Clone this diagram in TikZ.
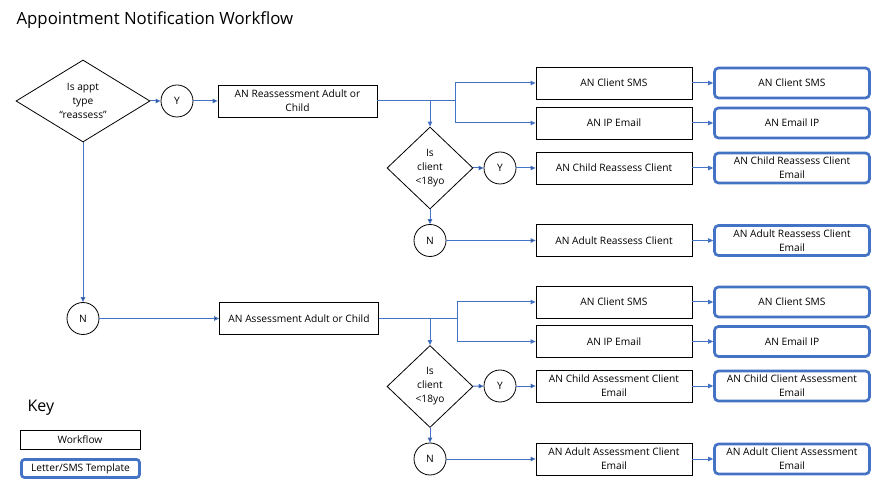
\documentclass[tikz,border=0pt]{standalone}
\usepackage{fontspec}
\setmainfont{Open Sans}
\usetikzlibrary{shapes.geometric,arrows.meta}
\definecolor{flowblue}{HTML}{4472C4}

\begin{document}
\begin{tikzpicture}[x=1pt,y=-1pt,->,>={Triangle[length=5pt,width=4.5pt]},node distance=178pt,
    every node/.style={font=\fontsize{10.2}{14}\selectfont},
    flow box/.style={rectangle,draw,line width=0.8pt,minimum width=156,minimum height=32,inner sep=1pt,align=center},
    template box/.style={rectangle,rounded corners=4pt,draw=flowblue,line width=2.7pt,minimum width=155,minimum height=30,inner sep=1pt,align=center},
    decision/.style={diamond,draw,line width=0.8pt,inner sep=0pt,align=center},
    answer/.style={circle,draw,line width=0.8pt,minimum size=32,inner sep=0pt},
    link/.style={draw=flowblue,line width=1pt}]
    \useasboundingbox (0,0) rectangle (889,494);

    \node[anchor=west,font=\fontsize{16.8}{20}\selectfont] (title) at (13,20) {Appointment Notification Workflow};

    % reassessment branch
    \node[decision,minimum width=134,minimum height=82,shape aspect=1.6] (appt) at (83,101) {Is appt\\type\\“reassess”};
    \node[answer] (y1) at (177,101) {Y};
    \node[flow box,minimum width=159] (reass) at (297.5,101) {AN Reassessment Adult or\\Child};
    \node[flow box] (rsms) at (614,83) {AN Client SMS};
    \node[flow box] (remail) at (614,123) {AN IP Email};
    \node[decision,minimum width=86,minimum height=82] (age1) at (430,168) {Is\\client\\<18yo};
    \node[answer] (y2) at (500,168) {Y};
    \node[flow box] (rchild) at (614,168) {AN Child Reassess Client};
    \node[answer] (n2) at (430,240.5) {N};
    \node[flow box] (radult) at (614,240.5) {AN Adult Reassess Client};

    \node[template box] (trsms) [right of=rsms] {AN Client SMS};
    \node[template box] (tremail) [right of=remail] {AN Email IP};
    \node[template box] (trchild) [right of=rchild] {AN Child Reassess Client\\Email};
    \node[template box] (tradult) [right of=radult] {AN Adult Reassess Client\\Email};

    % assessment branch
    \node[answer] (n1) at (83,318.5) {N};
    \node[flow box,minimum width=159] (assess) at (299,318.5) {AN Assessment Adult or Child};
    \node[flow box] (asms) at (614,302) {AN Client SMS};
    \node[flow box] (aemail) at (614,341.5) {AN IP Email};
    \node[decision,minimum width=86,minimum height=82] (age2) at (430,386.5) {Is\\client\\<18yo};
    \node[answer] (y3) at (500,386) {Y};
    \node[flow box] (achild) at (614,386) {AN Child Assessment Client\\Email};
    \node[answer] (n3) at (430,459) {N};
    \node[flow box] (aadult) at (614,459) {AN Adult Assessment Client\\Email};

    \node[template box] (tasms) [right of=asms] {AN Client SMS};
    \node[template box] (taemail) [right of=aemail] {AN Email IP};
    \node[template box] (tachild) [right of=achild] {AN Child Client Assessment\\Email};
    \node[template box] (taadult) [right of=aadult] {AN Adult Client Assessment\\Email};

    % key
    \node[anchor=west,font=\fontsize{16}{19}\selectfont] (key) at (24,408) {Key};
    \node[flow box,minimum width=120,minimum height=19] (kflow) at (80,439.5) {Workflow};
    \node[template box,minimum width=118,minimum height=18,rounded corners=3pt] (ktemp) at (80.5,468.5) {Letter/SMS Template};

    \coordinate (rsplit) at (455,101);
    \coordinate (rdrop) at (430,101);
    \coordinate (asplit) at (457,318.5);
    \coordinate (adrop) at (430,318.5);

    \path[link]
        (appt) edge (y1)
        (y1) edge (reass)
        (age1) edge (y2)
        (y2) edge (rchild)
        (age1) edge (n2)
        (n2) edge (radult)
        (appt) edge (n1)
        (n1) edge (assess)
        (age2) edge (y3)
        (y3) edge (achild)
        (age2) edge (n3)
        (n3) edge (aadult)
    ;
    \draw[link,-] (reass.east) -- (rsplit);
    \draw[link,-] (assess.east) -- (asplit);
    \draw[link] (rdrop) -- (age1.north);
    \draw[link] (adrop) -- (age2.north);
    \draw[link] (rsplit) |- (rsms);
    \draw[link] (rsplit) |- (remail);
    \draw[link] (asplit) |- (asms);
    \draw[link] (asplit) |- (aemail);

    \foreach \from/\to in {rsms/trsms,remail/tremail,rchild/trchild,radult/tradult,asms/tasms,aemail/taemail,achild/tachild,aadult/taadult}
        \draw[link] (\from) -- (\to);
\end{tikzpicture}
\end{document}
